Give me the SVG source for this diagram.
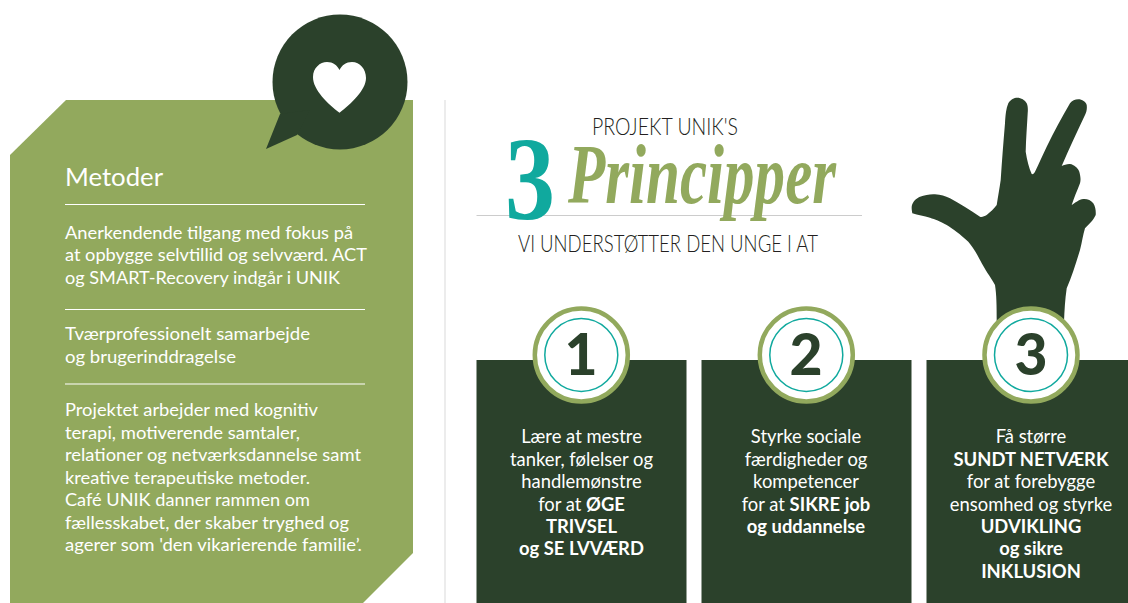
<svg xmlns="http://www.w3.org/2000/svg" width="1128" height="603" viewBox="0 0 1128 603">
<style>
.b{font-family:Lato,"Open Sans",sans-serif;font-size:17.5px;fill:#fff}
.c{font-family:Lato,"Open Sans",sans-serif;font-size:18.4px;fill:#fff;text-anchor:middle}
.s{font-weight:700}
.h{font-family:Lato,sans-serif;font-weight:300;fill:#231f20;font-size:23px}
.d{font-family:Lato,sans-serif;font-weight:900;font-size:57px;fill:#2b412b;text-anchor:middle}
.card{fill:#2b412b}
.o{fill:#fff;stroke:#92a95d;stroke-width:4.5}
.t{fill:none;stroke:#10a99e;stroke-width:1.5}
.r{stroke:#fff;stroke-width:1.2}
</style>
<rect width="1128" height="603" fill="#fff"/>
<g id="metoder-panel">
<polygon points="10,155 66,100 413,100 413,553 363,603 10,603" fill="#92a95d"/>
<circle cx="340" cy="82" r="67.5" fill="#2b412b"/>
<polygon points="280,114 266,149 297,135 310,110" fill="#2b412b"/>
<path d="M339.5,112.7 C328,104 313,90 313,77 C313,68 320,62 327,62 C333,62 337,65 339.5,70 C342,65 346,62 352,62 C360,62 366,69 366,78 C366,90 351,104 339.5,112.7 Z" fill="#fff"/>
<text x="65" y="186" font-family="Lato,sans-serif" font-size="25.5" fill="#fff" textLength="98" lengthAdjust="spacingAndGlyphs">Metoder</text>
<line class="r" x1="65" y1="204.5" x2="365" y2="204.5"/>
<text class="b" x="65" y="239" textLength="288" lengthAdjust="spacingAndGlyphs">Anerkendende tilgang med fokus på</text>
<text class="b" x="65" y="261" textLength="302" lengthAdjust="spacingAndGlyphs">at opbygge selvtillid og selvværd. ACT</text>
<text class="b" x="65" y="284" textLength="275" lengthAdjust="spacingAndGlyphs">og SMART-Recovery indgår i UNIK</text>
<line class="r" x1="65" y1="309.5" x2="365" y2="309.5"/>
<text class="b" x="65" y="340" textLength="245" lengthAdjust="spacingAndGlyphs">Tværprofessionelt samarbejde</text>
<text class="b" x="65" y="363" textLength="171" lengthAdjust="spacingAndGlyphs">og brugerinddragelse</text>
<line class="r" x1="65" y1="384" x2="365" y2="384"/>
<text class="b" x="65" y="416" textLength="253" lengthAdjust="spacingAndGlyphs">Projektet arbejder med kognitiv</text>
<text class="b" x="65" y="439" textLength="235" lengthAdjust="spacingAndGlyphs">terapi, motiverende samtaler,</text>
<text class="b" x="65" y="461" textLength="296" lengthAdjust="spacingAndGlyphs">relationer og netværksdannelse samt</text>
<text class="b" x="65" y="484" textLength="245" lengthAdjust="spacingAndGlyphs">kreative terapeutiske metoder.</text>
<text class="b" x="65" y="506" textLength="245" lengthAdjust="spacingAndGlyphs">Café UNIK danner rammen om</text>
<text class="b" x="65" y="529" textLength="284" lengthAdjust="spacingAndGlyphs">fællesskabet, der skaber tryghed og</text>
<text class="b" x="65" y="551" textLength="297" lengthAdjust="spacingAndGlyphs">agerer som 'den vikarierende familie’.</text>
</g>
<line id="divider" x1="445" y1="100" x2="445" y2="603" stroke="#d9d9d9" stroke-width="1"/>
<g id="title">
<text class="h" x="592" y="135" textLength="146" lengthAdjust="spacingAndGlyphs">PROJEKT UNIK'S</text>
<line x1="476.5" y1="215.5" x2="862" y2="215.5" stroke="#cccccc" stroke-width="1"/>
<text x="505" y="219" font-family="Liberation Serif,serif" font-weight="700" font-size="118" fill="#10a99e" textLength="50" lengthAdjust="spacingAndGlyphs">3</text>
<text x="568" y="203" font-family="Liberation Serif,serif" font-weight="700" font-style="italic" font-size="84" fill="#92a95d" textLength="268" lengthAdjust="spacingAndGlyphs">Principper</text>
<text class="h" x="518" y="252" textLength="300" lengthAdjust="spacingAndGlyphs">VI UNDERSTØTTER DEN UNGE I AT</text>
</g>
<path id="hand" fill="#2b412b" d="M996.7,322 C996.7,305 996.5,295 995,285 C990,276 985,270 980,260 C976,252 972,246 968.3,241.7 C960,234 953,229 946.7,225 C940,221 935,219.5 930,217.7 C924,216 918,215 912.3,213.3 C911.5,209 911.5,207 912,205 C914,200 917,198 920,196.7 C925,195 930,194 935,194.3 C941,194.8 945,196 950,198.3 C960,204 970,210 980,216.7 C982,217.5 984.5,216 986.7,215 C990,212 994,209 996.7,205 C998,197 999.5,188 1000.7,180 C1002,160 1003.5,141 1005,123.3 C1005.5,115 1006,109 1008.3,103.3 C1011,99 1014,97.7 1017.3,97.7 C1021,97.7 1025,100 1026.7,103.3 C1028,106 1028,110 1027.7,113 C1027,126 1026,139 1025.7,151.7 C1027,160 1029,168 1031.7,174 C1033,174.5 1034,173.5 1035,171.7 C1039,164 1043,154 1046.7,146.7 C1054,132 1062,117 1070,103.3 C1072,100.5 1075,99.3 1078.3,99.3 C1082,99.3 1086,102 1086.7,105 C1087.2,109 1086.5,112 1085,115 C1077,132 1069,149 1061.7,166 C1064,165 1067,163.8 1070,164 C1074,164.5 1078,168 1079.3,171.7 C1080.5,176 1081,180 1080,183.3 C1077,191 1074,198 1071.7,205 C1075,203 1079,199.5 1083.3,199 C1087,198.7 1091,200 1093.3,203.3 C1095.5,207 1096,211 1095.7,215 C1093,221 1089,224 1085,228.3 C1083,235 1082,242 1080,250 C1076,263 1072,276 1066.7,288.3 C1065,300 1064.5,310 1064,322 Z"/>
<g id="card-1">
<rect class="card" x="476.5" y="360" width="210" height="243"/>
<circle class="o" cx="581.3" cy="355" r="46.5"/>
<circle class="t" cx="581.3" cy="355" r="36.5"/>
<text class="d" x="581" y="375">1</text>
<text class="c" x="581.5" y="443">Lære at mestre</text>
<text class="c" x="581.5" y="466">tanker, følelser og</text>
<text class="c" x="581.5" y="488">handlemønstre</text>
<text class="c" x="581.5" y="511">for at <tspan class="s">ØGE</tspan></text>
<text class="c s" x="581.5" y="533">TRIVSEL</text>
<text class="c s" x="581.5" y="555">og SE LVVÆRD</text>
</g>
<g id="card-2">
<rect class="card" x="701.5" y="360" width="210" height="243"/>
<circle class="o" cx="806.3" cy="355" r="46.5"/>
<circle class="t" cx="806.3" cy="355" r="36.5"/>
<text class="d" x="806" y="375">2</text>
<text class="c" x="806" y="443">Styrke sociale</text>
<text class="c" x="806" y="466">færdigheder og</text>
<text class="c" x="806" y="488">kompetencer</text>
<text class="c" x="806" y="511">for at <tspan class="s">SIKRE job</tspan></text>
<text class="c s" x="806" y="533">og uddannelse</text>
</g>
<g id="card-3">
<rect class="card" x="926.5" y="360" width="202" height="243"/>
<circle class="o" cx="1031" cy="355" r="46.5"/>
<circle class="t" cx="1031" cy="355" r="36.5"/>
<text class="d" x="1031" y="375">3</text>
<text class="c" x="1031" y="443">Få større</text>
<text class="c s" x="1031" y="466">SUNDT NETVÆRK</text>
<text class="c" x="1031" y="488">for at forebygge</text>
<text class="c" x="1031" y="511">ensomhed og styrke</text>
<text class="c s" x="1031" y="533">UDVIKLING</text>
<text class="c s" x="1031" y="555">og sikre</text>
<text class="c s" x="1031" y="578">INKLUSION</text>
</g>
<g id="connectors"/>
</svg>
